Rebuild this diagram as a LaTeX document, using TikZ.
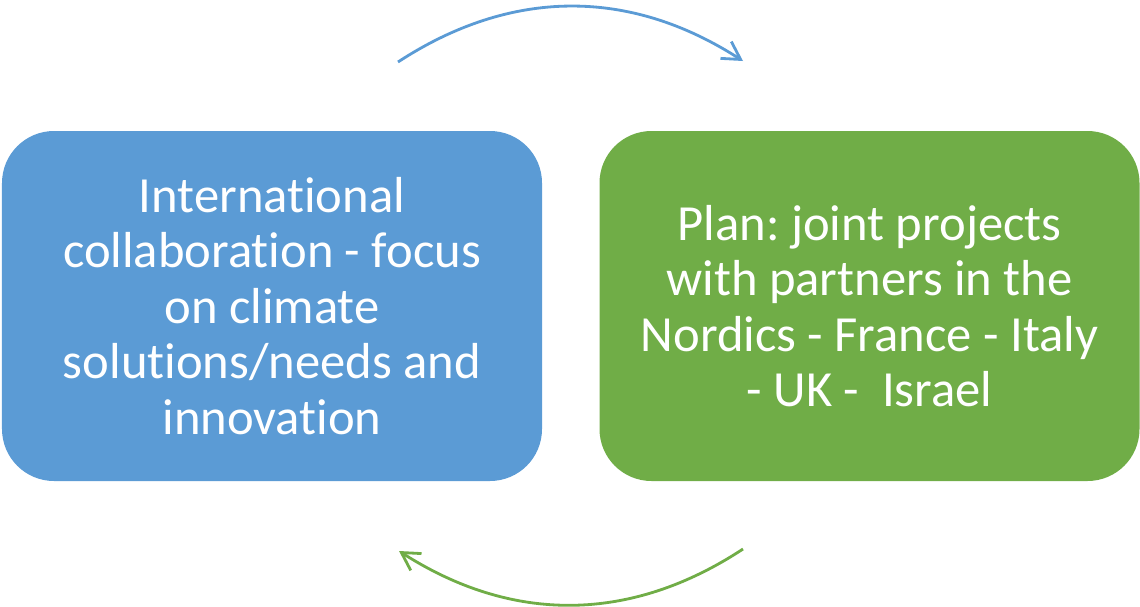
\documentclass[tikz,border=0pt]{standalone}
\usepackage{fontspec}
\setmainfont{Carlito}[Ligatures=NoCommon]
\usepackage{xcolor}
\usetikzlibrary{arrows.meta,positioning}
\definecolor{boxblue}{HTML}{5B9BD5}
\definecolor{boxgreen}{HTML}{70AD47}
\frenchspacing

\begin{document}
\begin{tikzpicture}[
  card/.style={rounded corners=1.04cm, minimum width=10.8cm, minimum height=7cm, align=center, text=white, font=\fontsize{28.8}{31.6}\selectfont},
  swing/.style={-{Straight Barb[length=3.5mm,width=4mm]}, line width=1.6pt}
]
\useasboundingbox (0,0) rectangle (22.8,-12.12);
\node[card, fill=boxblue] (intl) at (5.44,-6.12) {International\\collaboration - focus\\on climate\\solutions/needs and\\innovation};
\node[card, fill=boxgreen] (plan) at (17.39,-6.12) {Plan: joint projects\\with partners in the\\Nordics - France - Italy\\- UK -\ \ Israel};
\coordinate (a1) at (7.96,-1.24);
\coordinate (a2) at (14.86,-1.22);
\coordinate (b1) at (14.86,-10.98);
\coordinate (b2) at (7.98,-11.02);
\draw[swing, boxblue] (a1) to[bend left=33] (a2);
\draw[swing, boxgreen] (b1) to[bend left=33] (b2);
\end{tikzpicture}
\end{document}
